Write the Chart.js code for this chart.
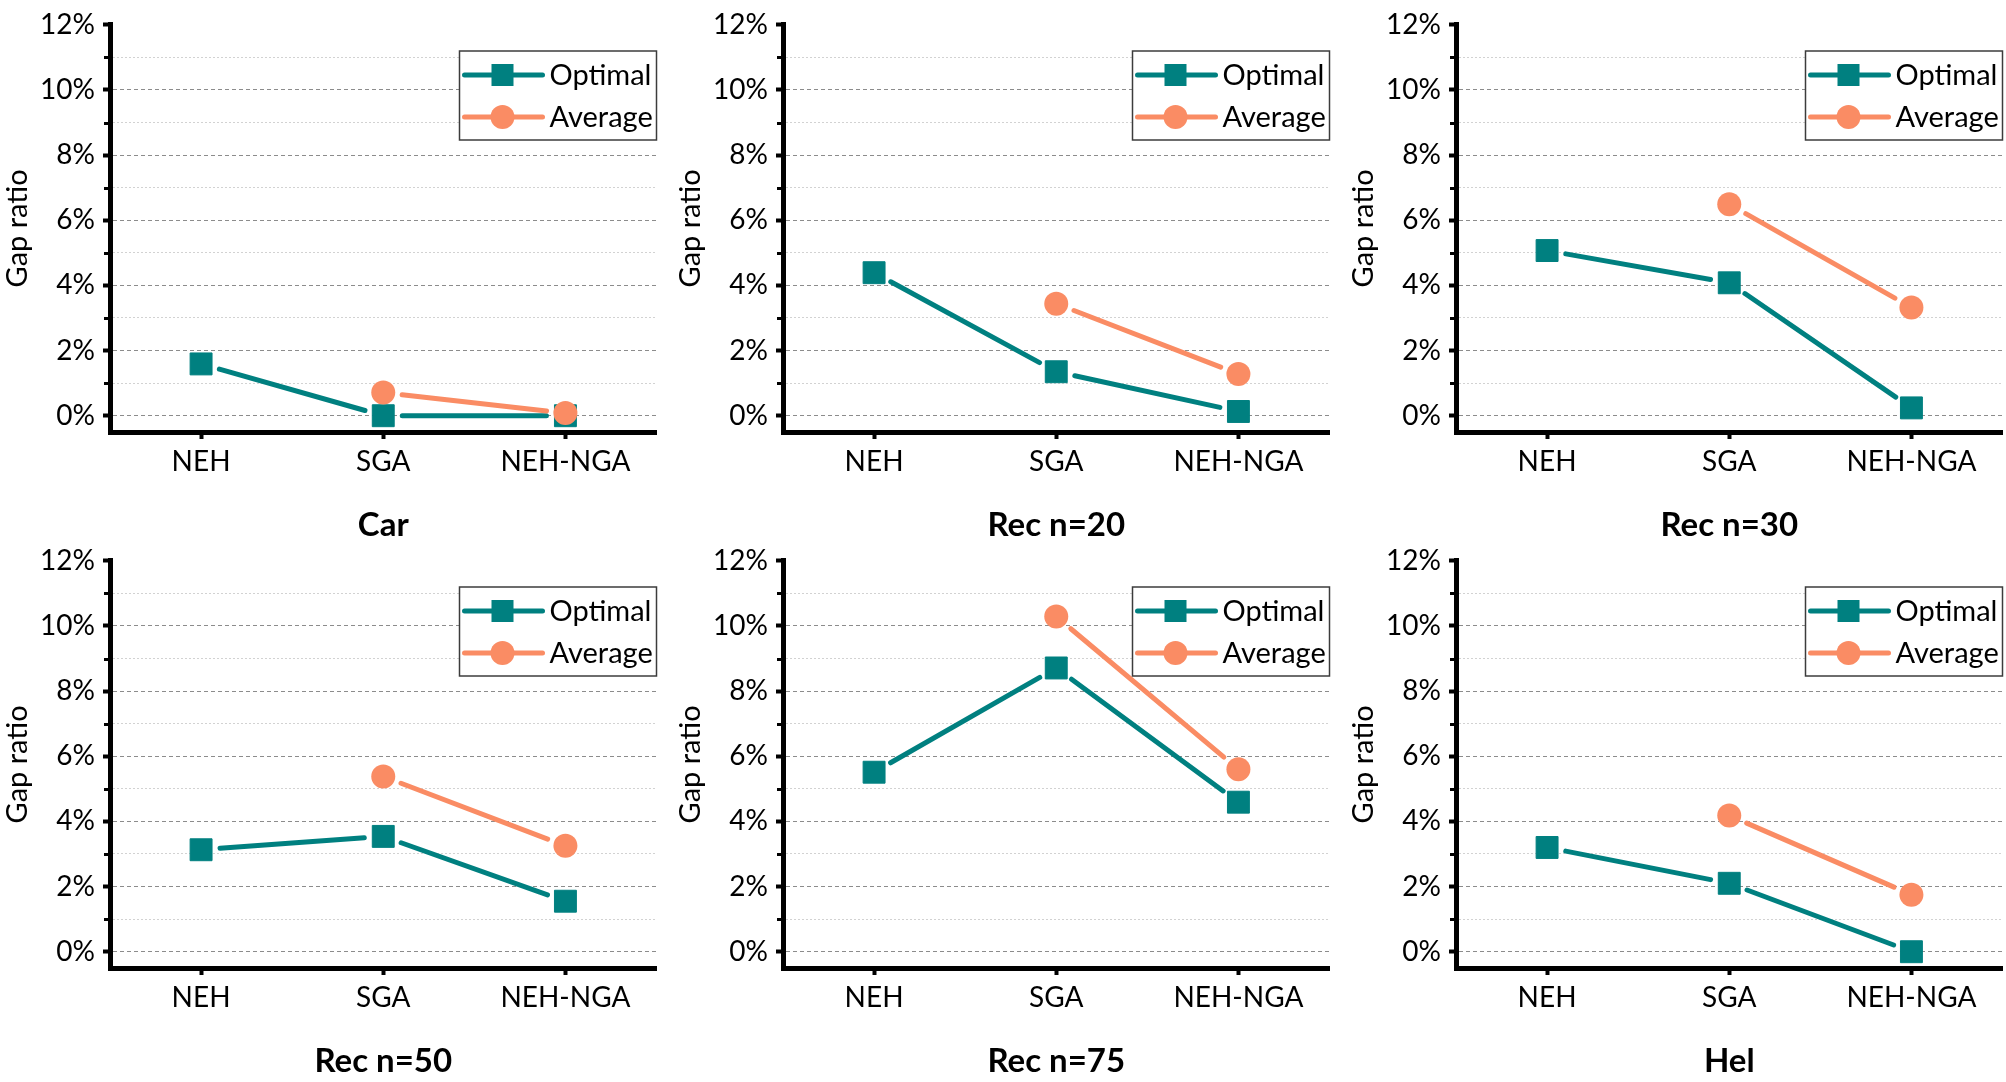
<!DOCTYPE html>
<html>
<head>
<meta charset="utf-8">
<title>Gap ratio</title>
<script src="https://cdn.jsdelivr.net/npm/chart.js@4.4.1/dist/chart.umd.min.js"></script>
<style>
  html, body { margin: 0; padding: 0; background: #fff; overflow: hidden; }
  #wrap { position: relative; width: 2006px; height: 1082px; overflow: hidden; }
  .cell { position: absolute; width: 673px; height: 548px; }
</style>
</head>
<body>
<div id="wrap">
  <div class="cell" style="left:0px;top:0px"><canvas id="c0"></canvas></div>
  <div class="cell" style="left:673px;top:0px"><canvas id="c1"></canvas></div>
  <div class="cell" style="left:1346px;top:0px"><canvas id="c2"></canvas></div>
  <div class="cell" style="left:0px;top:536px"><canvas id="c3"></canvas></div>
  <div class="cell" style="left:673px;top:536px"><canvas id="c4"></canvas></div>
  <div class="cell" style="left:1346px;top:536px"><canvas id="c5"></canvas></div>
</div>
<script>
const categories = ['NEH', 'SGA', 'NEH-NGA'];
const panelTitles = ['Car', 'Rec n=20', 'Rec n=30', 'Rec n=50', 'Rec n=75', 'Hel'];
const seriesNames = ['Optimal', 'Average'];

// gap ratio in %, one row per panel, columns follow categories
const optimalGap = [
  [1.59, 0.00, 0.00],
  [4.39, 1.35, 0.13],
  [5.07, 4.08, 0.24],
  [3.13, 3.54, 1.55],
  [5.51, 8.71, 4.59],
  [3.20, 2.10, 0.00]
];
const averageGap = [
  [null, 0.71, 0.08],
  [null, 3.44, 1.28],
  [null, 6.49, 3.32],
  [null, 5.38, 3.25],
  [null, 10.29, 5.60],
  [null, 4.18, 1.75]
];
const yTickValues = [0, 1, 2, 3, 4, 5, 6, 7, 8, 9, 10, 11, 12];
const yMin = -0.5;
const yMax = 12;

const teal = '#008080';
const salmon = '#FA8C64';

Chart.defaults.font.family = 'Lato';
Chart.defaults.font.size = 27;
Chart.defaults.color = '#000';

// Origin style: the connecting line stops a little before each marker
const gapLines = {
  id: 'gapLines',
  beforeDatasetsDraw(chart) {
    const ctx = chart.ctx;
    chart.data.datasets.forEach((ds, i) => {
      const pts = chart.getDatasetMeta(i).data;
      ctx.save();
      ctx.strokeStyle = ds.borderColor;
      ctx.lineWidth = 5;
      ctx.lineCap = 'round';
      for (let k = 0; k < pts.length - 1; k++) {
        const a = pts[k], b = pts[k + 1];
        if (a.skip || b.skip) continue;
        const dx = b.x - a.x, dy = b.y - a.y;
        const len = Math.hypot(dx, dy);
        const g = 19;
        if (len <= 2 * g) continue;
        ctx.beginPath();
        ctx.moveTo(a.x + dx * g / len, a.y + dy * g / len);
        ctx.lineTo(b.x - dx * g / len, b.y - dy * g / len);
        ctx.stroke();
      }
      ctx.restore();
    });
  }
};

// short minor ticks on the y axis at the odd values
const minorTicks = {
  id: 'minorTicks',
  afterDraw(chart) {
    const ctx = chart.ctx;
    const ys = chart.scales.y;
    ctx.save();
    ctx.strokeStyle = '#000';
    ctx.lineWidth = 3;
    yTickValues.filter(v => v % 2 === 1).forEach(v => {
      const py = Math.round(ys.getPixelForValue(v)) + 0.5;
      ctx.beginPath();
      ctx.moveTo(ys.right - 2, py);
      ctx.lineTo(ys.right - 6, py);
      ctx.stroke();
    });
    ctx.restore();
  }
};

// framed legend in the top right corner of the plot
const boxLegend = {
  id: 'boxLegend',
  afterDatasetsDraw(chart) {
    const ctx = chart.ctx;
    const area = chart.chartArea;
    const w = 197, h = 89;
    const x0 = area.right - w, y0 = 51;
    ctx.save();
    ctx.fillStyle = '#fff';
    ctx.fillRect(x0, y0, w, h);
    ctx.strokeStyle = '#3c3c3c';
    ctx.lineWidth = 1.5;
    ctx.strokeRect(x0, y0, w, h);
    chart.data.datasets.forEach((ds, i) => {
      const y = y0 + 24 + i * 42;
      const mx = x0 + 43;
      ctx.strokeStyle = ds.borderColor;
      ctx.lineWidth = 5;
      ctx.lineCap = 'round';
      ctx.beginPath();
      ctx.moveTo(x0 + 5, y);
      ctx.lineTo(x0 + 83, y);
      ctx.stroke();
      ctx.fillStyle = ds.backgroundColor;
      if (ds.pointStyle === 'rect') {
        ctx.fillRect(mx - 11, y - 11, 22, 22);
      } else {
        ctx.beginPath();
        ctx.arc(mx, y, 12, 0, Math.PI * 2);
        ctx.fill();
      }
      ctx.fillStyle = '#000';
      ctx.font = '29px Lato';
      ctx.textBaseline = 'middle';
      ctx.textAlign = 'left';
      ctx.fillText(ds.label, x0 + 90, y + 1);
    });
    ctx.restore();
  }
};

function makePanel(idx) {
  const ctx = document.getElementById('c' + idx);
  return new Chart(ctx, {
    type: 'line',
    data: {
      labels: categories,
      datasets: [
        {
          label: seriesNames[0],
          data: optimalGap[idx],
          borderColor: teal,
          backgroundColor: teal,
          showLine: false,
          pointStyle: 'rect',
          pointRadius: 15.5,
          pointBorderWidth: 1,
          pointBorderColor: teal,
          order: 1
        },
        {
          label: seriesNames[1],
          data: averageGap[idx],
          borderColor: salmon,
          backgroundColor: salmon,
          showLine: false,
          pointStyle: 'circle',
          pointRadius: 12,
          pointBorderWidth: 0,
          order: 0
        }
      ]
    },
    options: {
      responsive: true,
      maintainAspectRatio: false,
      animation: false,
      events: [],
      clip: false,
      layout: { padding: { left: 0, top: 21, right: 12, bottom: 0 } },
      plugins: {
        legend: { display: false },
        tooltip: { enabled: false }
      },
      scales: {
        x: {
          type: 'category',
          offset: true,
          afterFit: s => { s.height = 116; },
          grid: {
            offset: false,
            drawOnChartArea: false,
            drawTicks: true,
            tickLength: 7,
            tickWidth: 4,
            tickColor: '#000'
          },
          border: { display: true, color: '#000', width: 5 },
          ticks: { padding: 6, color: '#000', font: { size: 28 }, maxRotation: 0 },
          title: {
            display: true,
            text: panelTitles[idx],
            font: { size: 33, weight: 'bold' },
            padding: { top: 0, bottom: 3 }
          }
        },
        y: {
          min: yMin,
          max: yMax,
          afterFit: s => { s.width = 110; },
          afterBuildTicks: s => { s.ticks = yTickValues.map(v => ({ value: v })); },
          grid: {
            drawTicks: true,
            tickLength: 7,
            tickWidth: 4,
            tickColor: c => (c.tick && c.tick.value % 2 === 0) ? '#000' : 'rgba(0,0,0,0)',
            lineWidth: 1,
            color: c => {
              if (!c.tick || c.tick.value === 12) return 'rgba(0,0,0,0)';
              return c.tick.value % 2 === 0 ? '#8c8c8c' : '#d2d2d2';
            }
          },
          border: {
            display: true,
            color: '#000',
            width: 5,
            dash: c => (c.tick && c.tick.value % 2 === 1) ? [2, 2] : [4, 3]
          },
          ticks: {
            autoSkip: false,
            padding: 8,
            color: '#000',
            font: { size: 28 },
            callback: v => (v % 2 === 0 ? v + '%' : '')
          },
          title: {
            display: true,
            text: 'Gap ratio',
            font: { size: 29 },
            padding: { top: 0, bottom: 0 }
          }
        }
      }
    },
    plugins: [gapLines, minorTicks, boxLegend]
  });
}

for (let i = 0; i < panelTitles.length; i++) makePanel(i);
</script>
</body>
</html>
